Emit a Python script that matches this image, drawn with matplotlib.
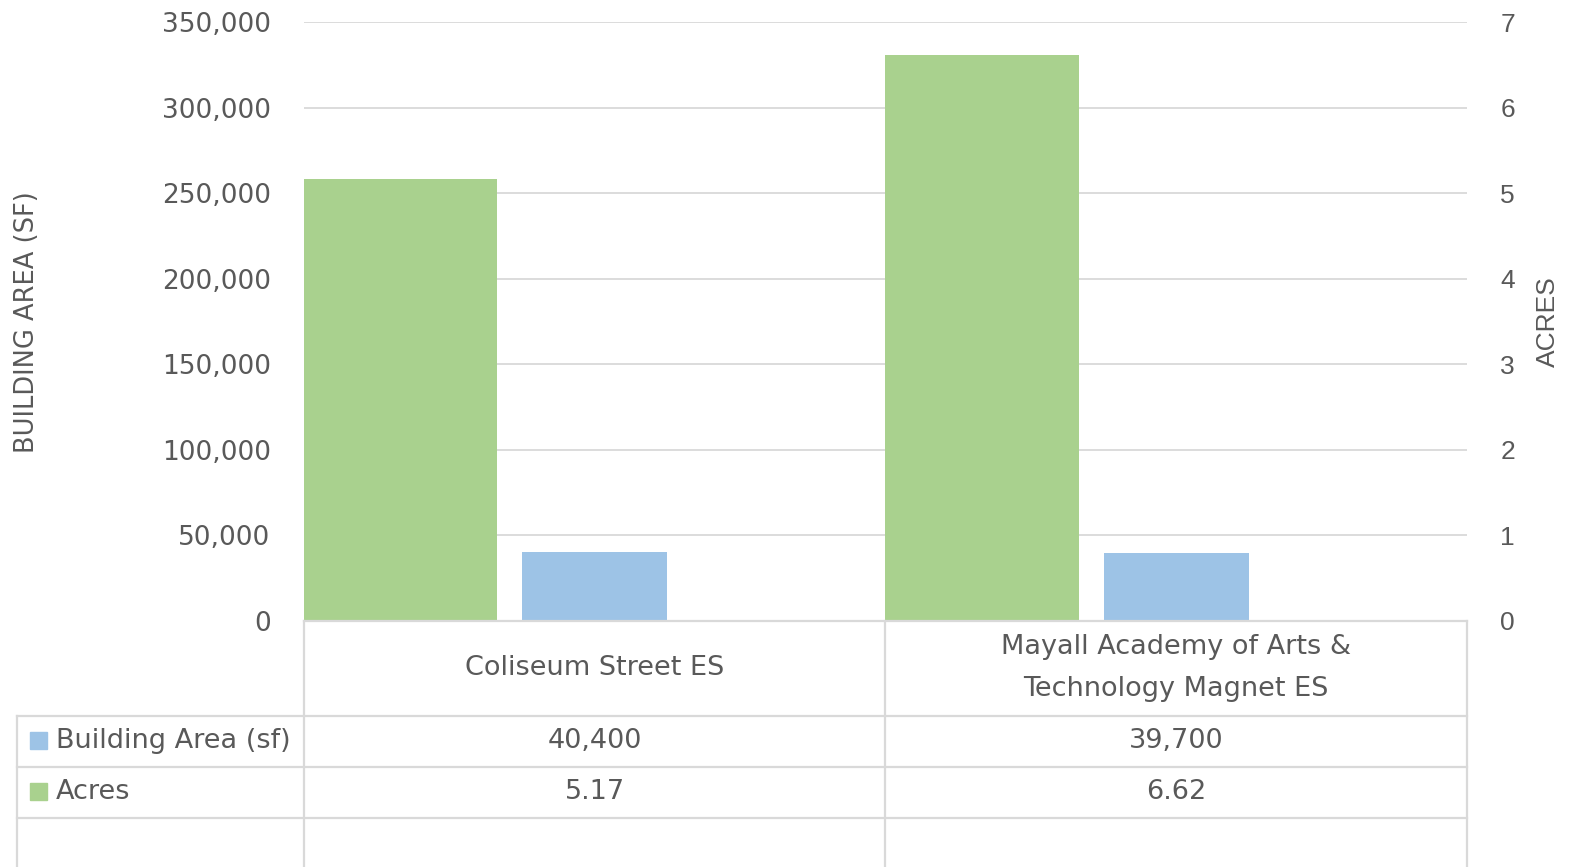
import numpy as np
import matplotlib.pyplot as plt
from matplotlib.lines import Line2D
from matplotlib.patches import Rectangle
from matplotlib.transforms import blended_transform_factory

schools = ["Coliseum Street ES", "Mayall Academy of Arts &\nTechnology Magnet ES"]
building_area = [40400, 39700]
acres = [5.17, 6.62]
area_labels = ["40,400", "39,700"]
acres_labels = ["5.17", "6.62"]
area_ticks = [0, 50000, 100000, 150000, 200000, 250000, 300000, 350000]
acres_ticks = [0, 1, 2, 3, 4, 5, 6, 7]

GREEN = "#A9D18E"
BLUE = "#9DC3E6"
TXT = "#595959"
GRID = "#D9D9D9"
ARIAL = ['Liberation Sans', 'DejaVu Sans']

W, H = 1570, 867
plt.rcParams['font.family'] = ['DejaVu Sans']
fig = plt.figure(figsize=(W / 100, H / 100), dpi=100)

def fx(px):
    return px / W

def fy(py):
    return 1 - py / H

ax = fig.add_axes([fx(304), fy(621), fx(1467) - fx(304), fy(22) - fy(621)])
ax2 = ax.twinx()

x = np.arange(len(schools))
ax.set_xlim(-0.5, len(schools) - 0.5)
ax.set_ylim(0, 350000)
ax2.set_ylim(0, 7)

ax.bar(x, building_area, width=0.25, color=BLUE, zorder=3)
ax2.bar(x - 0.334, acres, width=0.332, color=GREEN, zorder=3)

ax.set_yticks(area_ticks)
ax.set_yticklabels([f"{v:,}" for v in area_ticks], fontsize=19, color=TXT)
ax2.set_yticks(acres_ticks)
ax2.set_yticklabels([str(v) for v in acres_ticks], fontsize=19, color=TXT, family=ARIAL)
ax.tick_params(axis='y', length=0, pad=24)
ax2.tick_params(axis='y', length=0, pad=24)
ax.set_xticks([])
ax.grid(axis='y', color=GRID, linewidth=1.3, zorder=0)
for a in (ax, ax2):
    for s in a.spines.values():
        s.set_visible(False)

fig.text(fx(27), fy(322), "BUILDING AREA (SF)", rotation=90, ha='center', va='center',
         fontsize=18.5, color=TXT)
fig.text(fx(1548), fy(322), "ACRES", rotation=90, ha='center', va='center',
         fontsize=19, color=TXT, family=ARIAL)

# data table under the plot
def hline(y, x0, x1):
    fig.add_artist(Line2D([fx(x0), fx(x1)], [fy(y), fy(y)], color=GRID, lw=1.6))

def vline(xp, y0, y1):
    fig.add_artist(Line2D([fx(xp), fx(xp)], [fy(y0), fy(y1)], color=GRID, lw=1.6))

hline(621, 304, 1467)
for yy in (716, 767, 818):
    hline(yy, 17, 1467)
for xx in (304, 885, 1467):
    vline(xx, 621, 867)
vline(17, 716, 867)

tr = blended_transform_factory(ax.transData, fig.transFigure)
for i, name in enumerate(schools):
    fig.text(x[i], fy(668), name, transform=tr, ha='center', va='center',
             fontsize=19.5, color=TXT, linespacing=1.8)
    fig.text(x[i], fy(741), area_labels[i], transform=tr, ha='center', va='center',
             fontsize=19.5, color=TXT)
    fig.text(x[i], fy(792), acres_labels[i], transform=tr, ha='center', va='center',
             fontsize=19.5, color=TXT)

for yc, col, lab in ((741, BLUE, "Building Area (sf)"), (792, GREEN, "Acres")):
    fig.add_artist(Rectangle((fx(30), fy(yc + 8)), fx(17), fy(0) - fy(17),
                             color=col, transform=fig.transFigure))
    fig.text(fx(56), fy(yc), lab, ha='left', va='center', fontsize=19.5, color=TXT)

fig.savefig("out.png", dpi=100)
